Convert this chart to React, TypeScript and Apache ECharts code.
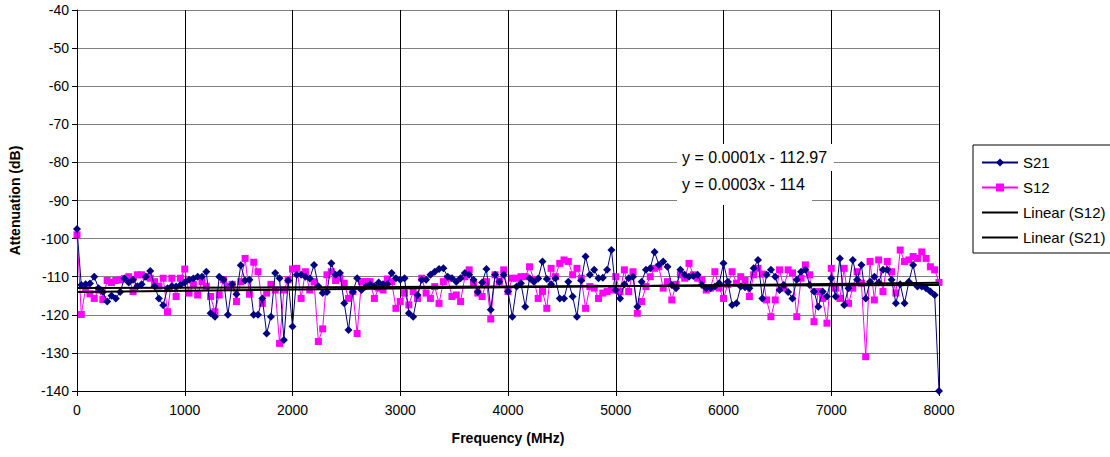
import React, { useEffect, useRef } from 'react';
import * as echarts from 'echarts';

const FREQ_STEP_MHZ = 40;

const s21 = [
  -97.5, -112.2, -112, -111.8, -110, -113, -114, -116.5, -115, -115.7,
  -114, -110.5, -111.5, -110.8, -112.5, -112, -110, -108.5, -112.5, -115.7,
  -117.5, -113, -112.5, -112.6, -112.2, -111.5, -110.8, -110.5, -110, -110,
  -108.7, -119.6, -120.5, -110, -110.8, -120, -112, -114.6, -107, -111,
  -110.8, -120, -120, -115.7, -124.9, -120.5, -109, -110.4, -126.6, -111,
  -123.1, -109.5, -109.5, -110, -110.5, -106.9, -112.5, -114.3, -114, -106.5,
  -109.5, -109, -117, -124, -114, -110.4, -113.5, -112.6, -112, -112.5,
  -111.5, -112, -112, -109, -110.4, -110.8, -110.4, -119.6, -120.5, -114.8,
  -110.8, -110.8, -109.5, -108.7, -108, -107.8, -110, -110.4, -111.3, -110.4,
  -109, -109.5, -110.8, -114, -111.5, -108, -118.7, -109.5, -111.3, -109.5,
  -113.9, -120.5, -112.6, -111.7, -117.9, -110.4, -111.3, -110.5, -106, -110.6,
  -112, -110.4, -115.7, -115.7, -111.3, -115.2, -120.5, -111, -104.7, -109.5,
  -108.2, -110.4, -110.3, -108.2, -103, -113.5, -115.7, -112, -110.4, -110,
  -117.9, -111.3, -108.2, -107.8, -103.5, -106.9, -106, -107.4, -112.2, -113,
  -108.2, -109.5, -110, -109.8, -109.5, -112.2, -113, -113, -112.6, -111.7,
  -106.5, -111.3, -117.4, -117, -112.6, -112.8, -113, -107.8, -105.6, -115.7,
  -109.5, -108.2, -110, -113.5, -112.2, -114, -115.7, -110.8, -108.7, -108.2,
  -112.2, -113.9, -117.9, -113.9, -115.2, -110.4, -115.2, -105.2, -117.4, -113,
  -105.6, -110.8, -106.9, -115.7, -111.3, -110, -111.5, -108.2, -108.2, -110.8,
  -117, -112, -117, -111.3, -106.9, -112.6, -112.6, -113, -113.9, -114.8,
  -140,
];

const s12 = [
  -99, -119.9, -113, -114.5, -115.7, -113.5, -116, -111, -111.5, -111,
  -110.8, -110.5, -110, -113.9, -109.5, -109.5, -110, -110.4, -111.3, -112.5,
  -110.4, -119.2, -110.4, -115.2, -110.4, -108, -114.3, -112, -114.8, -111.3,
  -112.5, -115.2, -119.2, -114.8, -110.8, -112.5, -112, -116.5, -111.3, -105.2,
  -114.6, -106.2, -108.7, -117, -114.3, -112, -113.5, -127.5, -113.5, -110.8,
  -108, -107.8, -115.7, -108.7, -113.5, -111.3, -127, -123.7, -109.5, -108.7,
  -111, -110.4, -111.7, -115.7, -113.9, -124.9, -111.3, -111.3, -111.3, -115.7,
  -113, -113.5, -110.6, -111.3, -118.3, -116.5, -114.3, -117.4, -113.9, -115.7,
  -110.4, -114.3, -115.7, -112.6, -117, -111.3, -110.4, -115.2, -114.8, -116.5,
  -110, -108.2, -111.7, -114.3, -115.2, -111.3, -121.1, -109.5, -111.3, -108.2,
  -113.9, -110.4, -110.4, -110, -110, -107.4, -110.8, -115.7, -113.9, -118.3,
  -107.8, -110, -106.5, -105.6, -106, -109.5, -107.8, -110.4, -118.3, -112.6,
  -113, -115.7, -114.3, -113.9, -113.5, -110, -113.9, -108.2, -113.9, -108.7,
  -119.6, -116.5, -112.6, -110, -107.8, -107.4, -113, -111.3, -116.1, -112,
  -109.5, -110.4, -106.5, -109.5, -110.4, -110.8, -113.5, -113, -108.7, -113,
  -115.7, -112, -108.7, -111.7, -110, -111, -115.2, -109.5, -107.8, -109.3,
  -116.1, -120.5, -116.1, -108.2, -113, -108.2, -109, -120.5, -110.4, -106.9,
  -109.5, -121.8, -113.9, -115.7, -122.2, -107.8, -113, -115.7, -107.8, -117,
  -113, -108.7, -111.7, -131, -106, -116.1, -105.6, -113.9, -106, -108.7,
  -114.3, -103, -106, -105.6, -104.7, -105.2, -103.5, -105.2, -107.4, -108.2,
  -111.5,
];

const trendS12 = { slope: 0.0003, intercept: -114 };
const trendS21 = { slope: 0.0001, intercept: -112.97 };
const equationLabels = ['y = 0.0001x - 112.97', 'y = 0.0003x - 114'];
const legendNames = ['S21', 'S12', 'Linear (S12)', 'Linear (S21)'];

const X_MIN = 0;
const X_MAX = 8000;
const X_INTERVAL = 1000;
const Y_MIN = -140;
const Y_MAX = -40;
const Y_INTERVAL = 10;

const FONT = '"Liberation Sans", Arial, sans-serif';
const LINE_ICON = 'path://M0,0H36V2H0Z';

export default function App() {
  const ref = useRef<HTMLDivElement>(null);

  useEffect(() => {
    if (!ref.current) return;
    const chart = echarts.init(ref.current, undefined, { renderer: 'svg' });

    const freqs = s21.map((_, i) => i * FREQ_STEP_MHZ);
    const s21Data = s21.map((v, i) => [freqs[i], v]);
    const s12Data = s12.map((v, i) => [freqs[i], v]);
    const trendLine = (t: { slope: number; intercept: number }) => [
      [X_MIN, t.intercept + t.slope * X_MIN],
      [X_MAX, t.intercept + t.slope * X_MAX],
    ];

    chart.setOption({
      animation: false,
      backgroundColor: '#ffffff',
      textStyle: { fontFamily: FONT },
      grid: { left: 77, top: 10, right: 171, bottom: 66, containLabel: false },
      xAxis: {
        type: 'value',
        min: X_MIN,
        max: X_MAX,
        interval: X_INTERVAL,
        name: 'Frequency (MHz)',
        nameLocation: 'middle',
        nameGap: 40,
        nameTextStyle: { fontFamily: FONT, fontSize: 14, fontWeight: 'bold', color: '#000' },
        axisLine: { show: true, onZero: false, lineStyle: { color: '#000', width: 1 } },
        axisTick: { show: true, length: 5, lineStyle: { color: '#000' } },
        axisLabel: {
          color: '#000',
          fontFamily: FONT,
          fontSize: 14,
          margin: 12,
          formatter: (v: number) => String(v),
        },
        splitLine: { show: true, lineStyle: { color: '#000', width: 1 } },
      },
      yAxis: {
        type: 'value',
        min: Y_MIN,
        max: Y_MAX,
        interval: Y_INTERVAL,
        name: 'Attenuation (dB)',
        nameLocation: 'middle',
        nameGap: 55,
        nameTextStyle: { fontFamily: FONT, fontSize: 14, fontWeight: 'bold', color: '#000' },
        axisLine: { show: true, onZero: false, lineStyle: { color: '#000', width: 1 } },
        axisTick: { show: true, length: 5, lineStyle: { color: '#000' } },
        axisLabel: { color: '#000', fontFamily: FONT, fontSize: 14, margin: 8 },
        splitLine: { show: true, lineStyle: { color: '#808080', width: 1 } },
      },
      legend: {
        orient: 'vertical',
        left: 973,
        top: 145,
        padding: [10, 6, 8, 8],
        itemGap: 10,
        itemWidth: 36,
        itemHeight: 10,
        itemTextGap: 3,
        borderColor: '#000',
        borderWidth: 1,
        backgroundColor: '#fff',
        textStyle: { fontFamily: FONT, fontSize: 15, color: '#000' },
        data: [
          { name: legendNames[0] },
          { name: legendNames[1] },
          { name: legendNames[2], icon: LINE_ICON },
          { name: legendNames[3], icon: LINE_ICON },
        ],
      },
      graphic: [
        { type: 'rect', z: 100, shape: { x: 677, y: 144, width: 157, height: 27 }, style: { fill: '#fff' } },
        { type: 'rect', z: 100, shape: { x: 677, y: 171, width: 135, height: 34 }, style: { fill: '#fff' } },
        {
          type: 'text', z: 101, x: 682, y: 157,
          style: { text: equationLabels[0], fill: '#000', fontFamily: FONT, fontSize: 16, verticalAlign: 'middle' },
        },
        {
          type: 'text', z: 101, x: 682, y: 184,
          style: { text: equationLabels[1], fill: '#000', fontFamily: FONT, fontSize: 16, verticalAlign: 'middle' },
        },
      ],
      series: [
        {
          name: legendNames[0],
          type: 'line',
          data: s21Data,
          symbol: 'diamond',
          symbolSize: 8,
          showAllSymbol: true,
          itemStyle: { color: '#000080' },
          lineStyle: { color: '#000080', width: 1 },
          z: 3,
        },
        {
          name: legendNames[1],
          type: 'line',
          data: s12Data,
          symbol: 'rect',
          symbolSize: 7,
          showAllSymbol: true,
          itemStyle: { color: '#ff00ff' },
          lineStyle: { color: '#ff00ff', width: 1 },
          z: 2,
        },
        {
          name: legendNames[2],
          type: 'line',
          data: trendLine(trendS12),
          symbol: 'none',
          itemStyle: { color: '#000' },
          lineStyle: { color: '#000', width: 2 },
          z: 4,
        },
        {
          name: legendNames[3],
          type: 'line',
          data: trendLine(trendS21),
          symbol: 'none',
          itemStyle: { color: '#000' },
          lineStyle: { color: '#000', width: 2 },
          z: 4,
        },
      ],
    });

    return () => chart.dispose();
  }, []);

  return (
    <div
      ref={ref}
      style={{ position: 'fixed', left: 0, top: 0, width: 1110, height: 457, background: '#fff' }}
    />
  );
}
